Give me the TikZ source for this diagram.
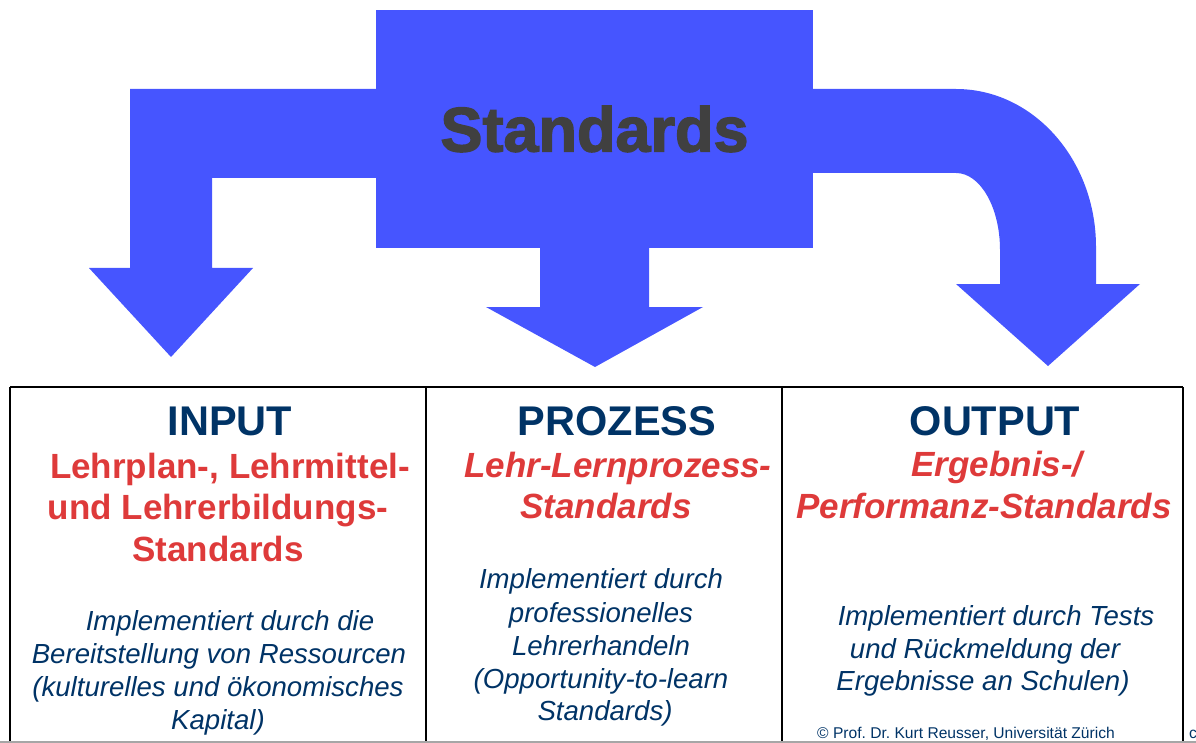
\documentclass[tikz,border=0pt]{standalone}
\usepackage{fontspec}
\setmainfont{Liberation Sans}
\newfontfamily\heavyfont[FakeBold=2.2]{Liberation Sans Bold}
\usepackage{tikz}
\definecolor{stdblue}{RGB}{70,85,255}
\definecolor{stdnavy}{RGB}{0,51,102}
\definecolor{stdred}{RGB}{222,58,58}
\definecolor{stdgray}{RGB}{64,64,64}
\frenchspacing
\begin{document}
\begin{tikzpicture}[x=1pt,y=-1pt,
  every node/.append style={inner sep=0pt},
  head/.style={anchor=base,text=stdnavy,font=\fontsize{41.5}{50}\selectfont\bfseries},
  redline/.style={anchor=base,text=stdred,font=\fontsize{35}{42}\selectfont\bfseries},
  reditline/.style={redline,font=\fontsize{35}{42}\selectfont\bfseries\itshape},
  itline/.style={anchor=base,text=stdnavy,font=\fontsize{27.6}{33}\selectfont\itshape},
  small/.style={anchor=base west,text=stdnavy,font=\fontsize{15.6}{18}\selectfont}]
\useasboundingbox (0,0) rectangle (1196,743);
% arrows
\fill [stdblue] (376,89) -- (130,89) -- (130,268) -- (89,268) -- (171,357) -- (253,268) -- (212,268) -- (212,178) -- (376,178) -- cycle;
\fill [stdblue] (540,240) -- (540,307) -- (486,307) -- (595,367) -- (703,307) -- (649,307) -- (649,240) -- cycle;
\fill [stdblue] (805,89) -- (956,89) arc [start angle=-90,end angle=0,x radius=140,y radius=158] -- (1096,284) -- (1140,284) -- (1048,366) -- (956,284) -- (1000,284) -- (1000,250) arc [start angle=0,end angle=-90,x radius=44,y radius=77] -- (805,173) -- cycle;
\node [fill=stdblue,minimum width=437,minimum height=238,text=stdgray,font=\fontsize{63}{70}\heavyfont] (std) at (594.5,129) {Standards};
% table
\draw [line width=1.8,black] (10,387) -- (1183,387);
\draw [line width=1.8,black] (10,387) -- (10,743);
\draw [line width=1.8,black] (426,387) -- (426,743);
\draw [line width=1.8,black] (782,387) -- (782,743);
\draw [line width=1.8,black] (1183,387) -- (1183,743);
\draw [line width=1.4,gray!70] (0,741.8) -- (1196,741.8);
% input
\node [head] (inp) at (230,435) {INPUT};
\node [redline] (inp1) at (230,478) {Lehrplan-, Lehrmittel-};
\node [redline] (inp2) at (218,519) {und Lehrerbildungs-};
\node [redline] (inp3) at (218,561) {Standards};
\node [itline] (inpi1) at (230,630) {Implementiert durch die};
\node [itline] (inpi2) at (219,663) {Bereitstellung von Ressourcen};
\node [itline] (inpi3) at (218,696) {(kulturelles und ökonomisches};
\node [itline] (inpi4) at (218,729) {Kapital)};
% prozess
\node [head] (proz) at (617,435) {PROZESS};
\node [reditline] (proz1) at (618,477) {Lehr-Lernprozess-};
\node [reditline] (proz2) at (606,518) {Standards};
\node [itline] (prozi1) at (601,588) {Implementiert durch};
\node [itline] (prozi2) at (601,622) {professionelles};
\node [itline] (prozi3) at (601,655) {Lehrerhandeln};
\node [itline] (prozi4) at (601,688) {(Opportunity-to-learn};
\node [itline] (prozi5) at (605,720) {Standards)};
% output
\node [head] (outp) at (995,435) {OUTPUT};
\node [reditline] (outp1) at (997,476) {Ergebnis-/};
\node [reditline] (outp2) at (984,518) {Performanz-Standards};
\node [itline] (outpi1) at (996,625) {Implementiert durch Tests};
\node [itline] (outpi2) at (985,658) {und Rückmeldung der};
\node [itline] (outpi3) at (983,690) {Ergebnisse an Schulen)};
\node [small] (copy) at (817,738) {© Prof. Dr. Kurt Reusser, Universität Zürich};
\node [small] (cut) at (1189,738) {c};
\end{tikzpicture}
\end{document}
